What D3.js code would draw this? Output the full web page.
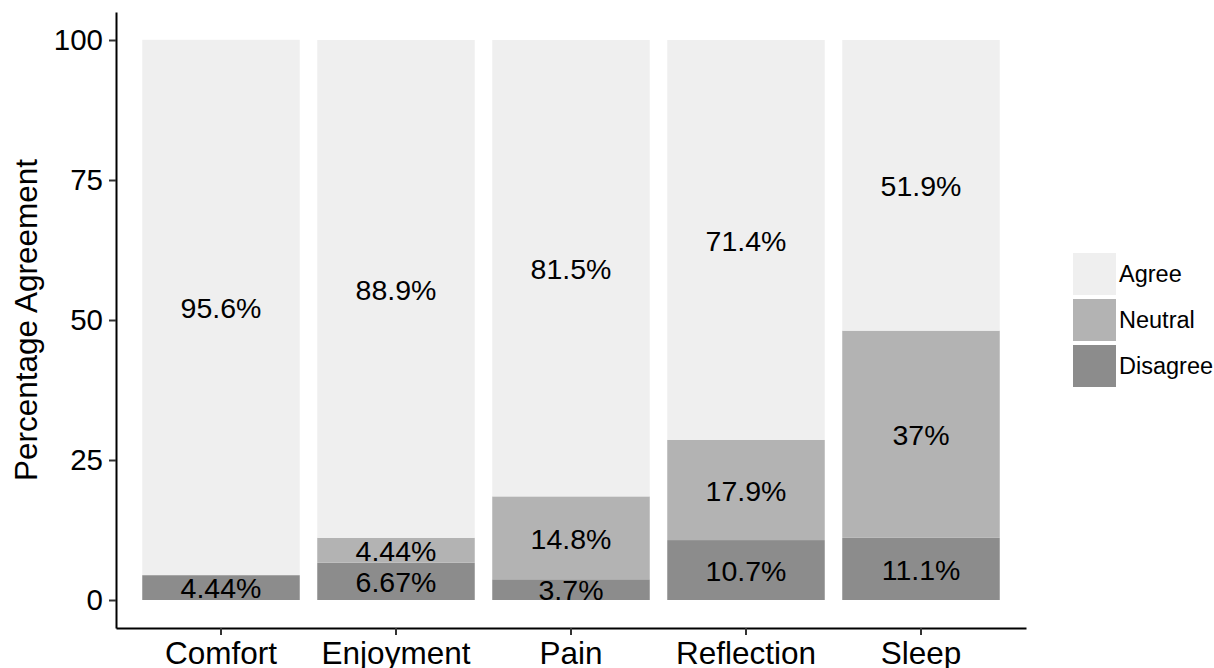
<!DOCTYPE html>
<html>
<head>
<meta charset="utf-8">
<script src="https://cdn.jsdelivr.net/npm/d3@7"></script>
<style>
  body { margin: 0; background: #fff; }
  text { font-family: "Liberation Sans", Arial, sans-serif; fill: #000; }
</style>
</head>
<body>
<div id="chart"></div>
<script>
var categories = ["Comfort", "Enjoyment", "Pain", "Reflection", "Sleep"];
var levels = ["Disagree", "Neutral", "Agree"];   // bottom to top
var disagreeVals = [4.44, 6.67, 3.7, 10.7, 11.1];
var neutralVals = [0, 4.44, 14.8, 17.9, 37];
var agreeVals = [95.6, 88.9, 81.5, 71.4, 51.9];
var yTicks = [0, 25, 50, 75, 100];
var legendOrder = ["Agree", "Neutral", "Disagree"];

var colors = { Agree: "#efefef", Neutral: "#b3b3b3", Disagree: "#8c8c8c" };

var width = 1214, height = 668;
var panel = { left: 116, right: 1026, top: 12, bottom: 628 };

var svg = d3.select("#chart").append("svg")
  .attr("width", width)
  .attr("height", height);

svg.append("rect").attr("width", width).attr("height", height).attr("fill", "#fff");

var x = d3.scaleBand()
  .domain(categories)
  .range([panel.left, panel.right])
  .paddingInner(0.1)
  .paddingOuter(0.15);

var y = d3.scaleLinear()
  .domain([-5, 105])
  .range([panel.bottom, panel.top]);

// build rows for the stack
var rows = categories.map(function(c, i) {
  return { cat: c, Disagree: disagreeVals[i], Neutral: neutralVals[i], Agree: agreeVals[i] };
});
var series = d3.stack().keys(levels)(rows);

var layers = svg.append("g").selectAll("g")
  .data(series)
  .enter().append("g")
  .attr("fill", function(d) { return colors[d.key]; });

layers.selectAll("rect")
  .data(function(d) { return d; })
  .enter().append("rect")
  .attr("x", function(d) { return x(d.data.cat); })
  .attr("width", x.bandwidth())
  .attr("y", function(d) { return y(d[1]); })
  .attr("height", function(d) { return y(d[0]) - y(d[1]); });

// value labels, centred in each segment
var labelGroup = svg.append("g");
series.forEach(function(s) {
  s.forEach(function(d) {
    var v = d[1] - d[0];
    if (v <= 0) return;
    labelGroup.append("text")
      .attr("x", x(d.data.cat) + x.bandwidth() / 2)
      .attr("y", y((d[0] + d[1]) / 2))
      .attr("dy", "0.38em")
      .attr("text-anchor", "middle")
      .attr("font-size", 28.5)
      .text(d.data[s.key] + "%");
  });
});

// axes
var yAxis = svg.append("g")
  .attr("transform", "translate(" + panel.left + ",0)")
  .call(d3.axisLeft(y).tickValues(yTicks).tickSize(7).tickSizeOuter(0).tickPadding(6));

var xAxis = svg.append("g")
  .attr("transform", "translate(0," + panel.bottom + ")")
  .call(d3.axisBottom(x).tickSize(7).tickSizeOuter(0).tickPadding(7));

[yAxis, xAxis].forEach(function(a) {
  a.select(".domain").attr("stroke", "#000").attr("stroke-width", 2);
  a.selectAll(".tick line").attr("stroke", "#333").attr("stroke-width", 2);
  a.selectAll(".tick text").attr("fill", "#000")
    .style("font-family", "'Liberation Sans', Arial, sans-serif");
});
yAxis.selectAll(".tick text").attr("font-size", 29.5);
xAxis.selectAll(".tick text").attr("font-size", 31.5);

// y title
svg.append("text")
  .attr("transform", "translate(37," + ((panel.top + panel.bottom) / 2) + ") rotate(-90)")
  .attr("text-anchor", "middle")
  .attr("font-size", 31.5)
  .text("Percentage Agreement");

// legend
var keySize = 42, keyGap = 4;
var legendTop = (panel.top + panel.bottom) / 2 - (legendOrder.length * keySize + (legendOrder.length - 1) * keyGap) / 2;
var legend = svg.append("g")
  .attr("transform", "translate(1073," + legendTop + ")");

var items = legend.selectAll("g")
  .data(legendOrder)
  .enter().append("g")
  .attr("transform", function(d, i) { return "translate(0," + i * (keySize + keyGap) + ")"; });

items.append("rect")
  .attr("width", 43)
  .attr("height", keySize)
  .attr("fill", function(d) { return colors[d]; });

items.append("text")
  .attr("x", 46)
  .attr("y", keySize / 2)
  .attr("dy", "0.36em")
  .attr("font-size", 23.5)
  .text(function(d) { return d; });
</script>
</body>
</html>
